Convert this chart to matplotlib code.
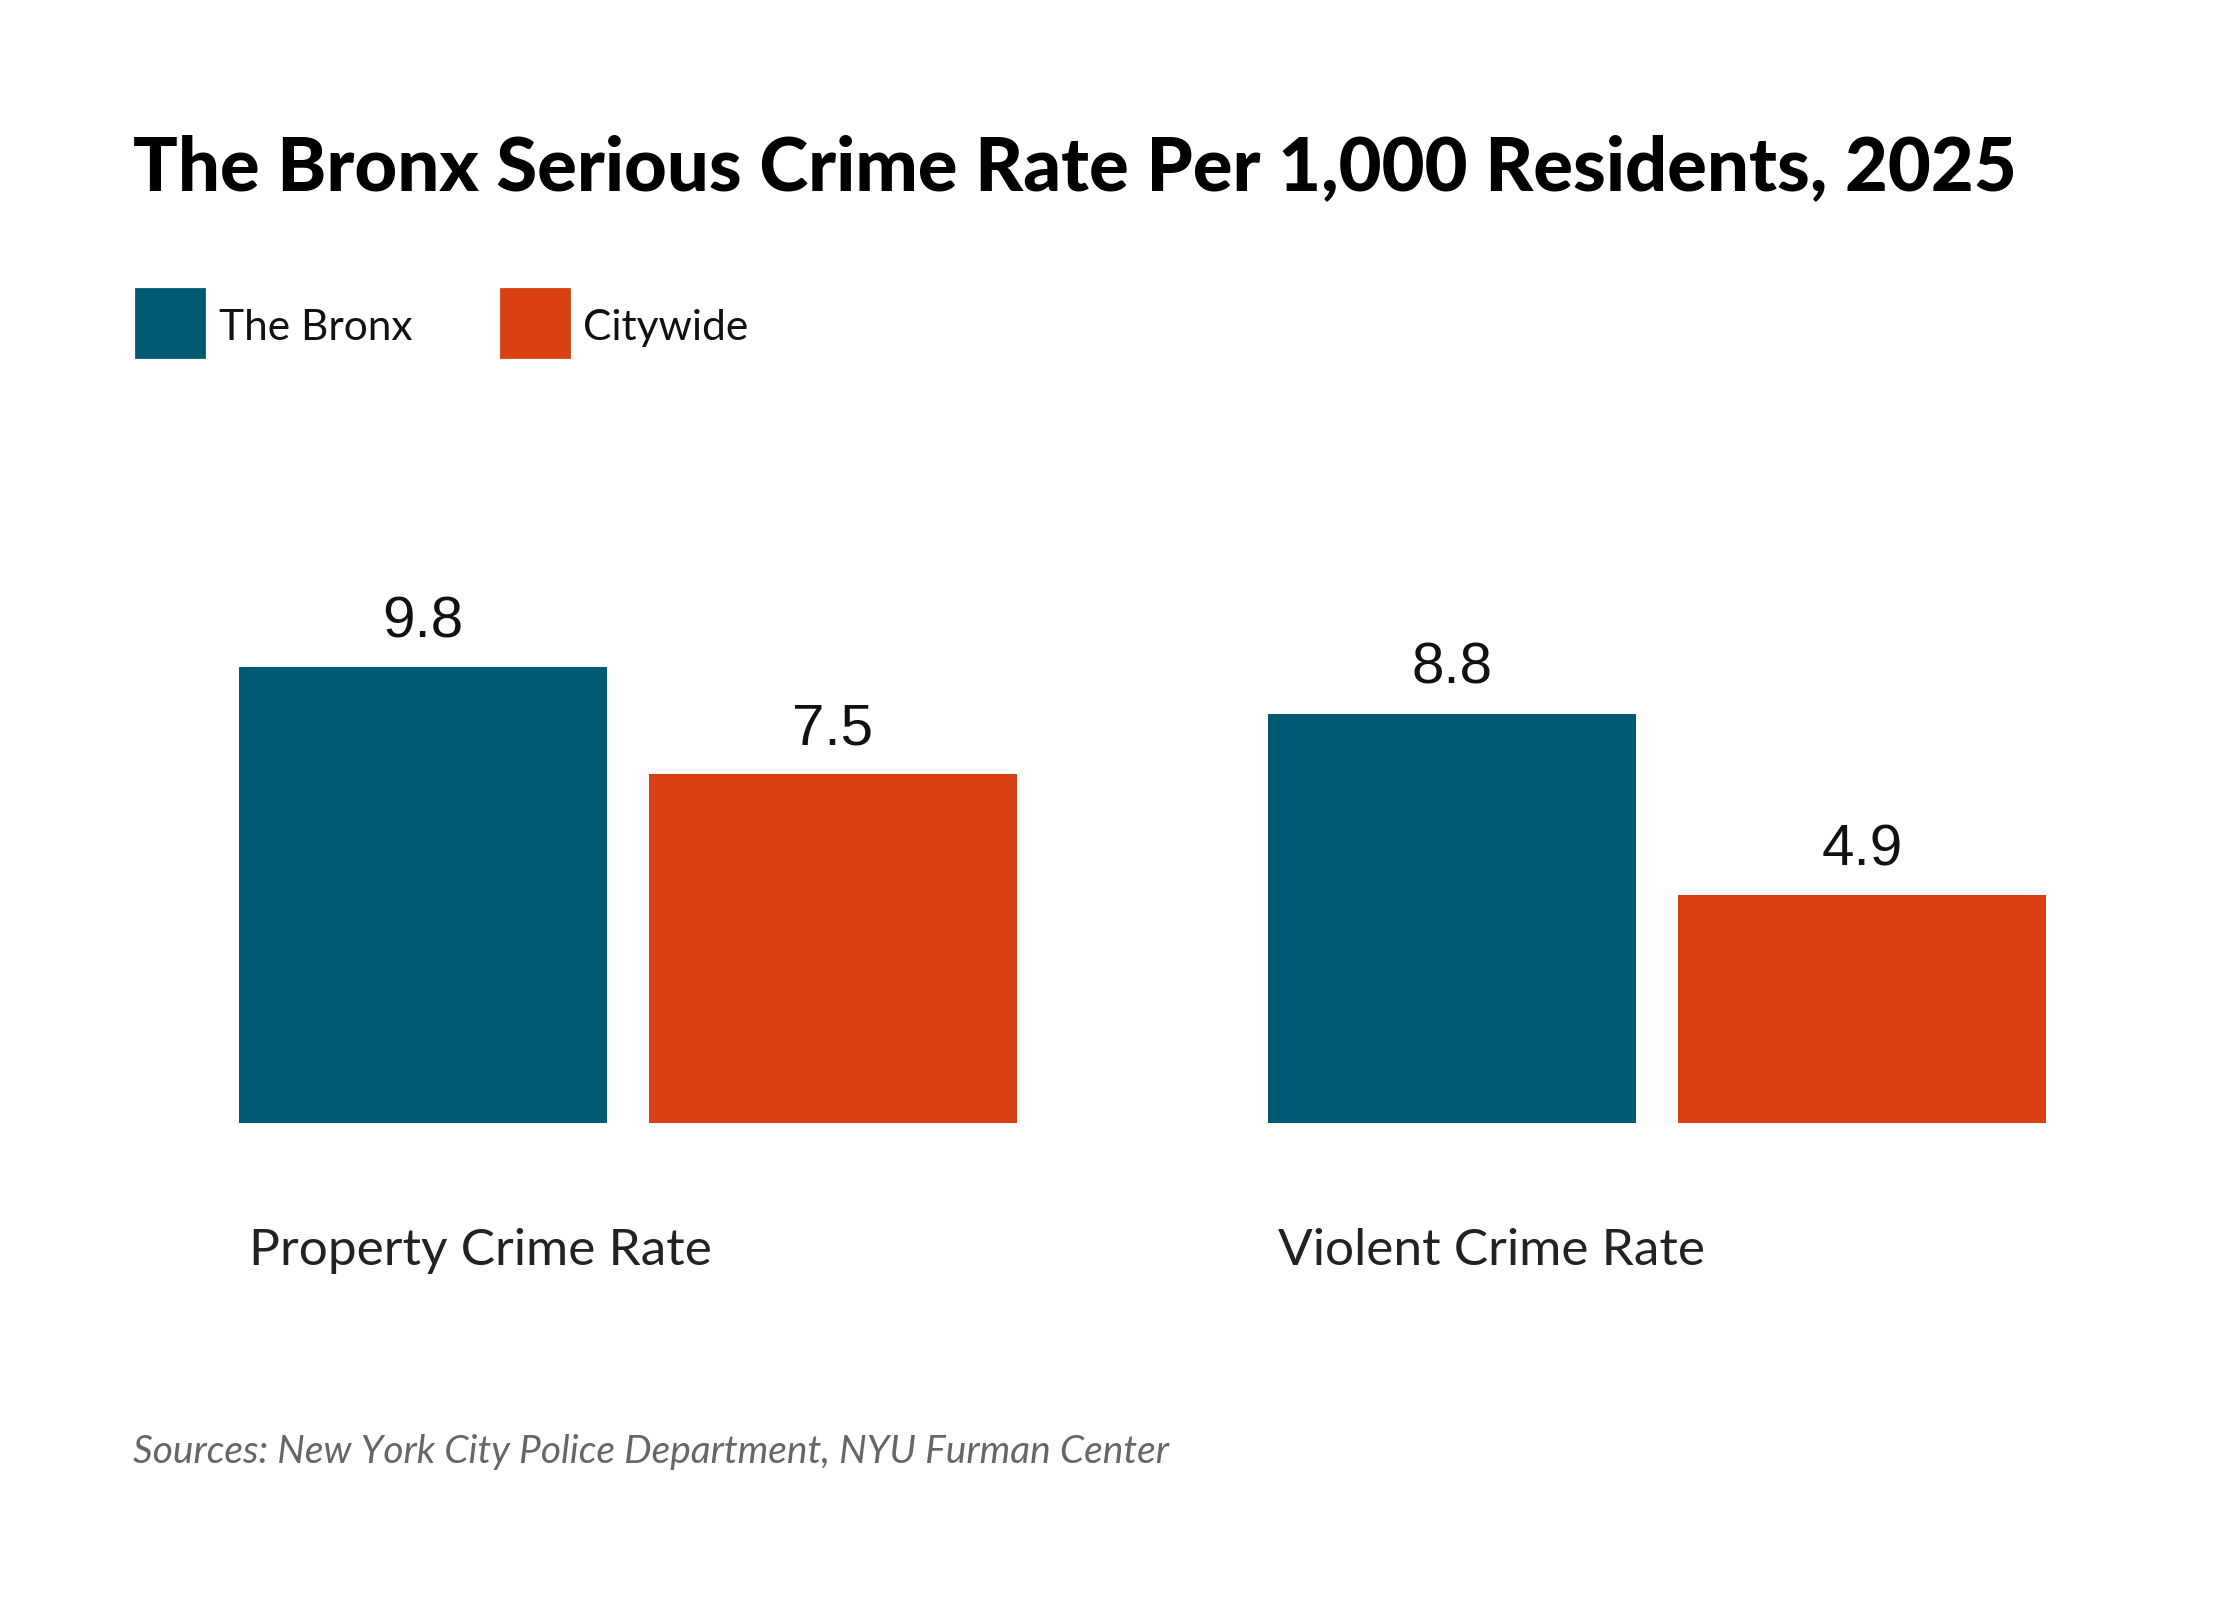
import matplotlib
matplotlib.use('Agg')
import matplotlib.pyplot as plt
from matplotlib.patches import Rectangle

# data
categories = ['Property Crime Rate', 'Violent Crime Rate']
series_names = ['The Bronx', 'Citywide']
bronx = [9.8, 8.8]
citywide = [7.5, 4.9]
colors = ['#015a74', '#d84012']

W, H = 2240, 1600
fig = plt.figure(figsize=(11.2, 8), dpi=200)
fig.patch.set_facecolor('white')

# axes placed in pixel coords (from top)
left_px, right_px = 239, 2046
base_px, top_px = 1123, 600
ax = fig.add_axes([left_px / W, 1 - base_px / H, (right_px - left_px) / W, (base_px - top_px) / H])

bw = 0.3576
off = 0.1992
xs = range(len(categories))
for i, vals in enumerate([bronx, citywide]):
    pos = [x + (off if i else -off) for x in xs]
    bars = ax.bar(pos, vals, width=bw, color=colors[i])
    for b, v in zip(bars, vals):
        ax.annotate(f'{v}', (b.get_x() + b.get_width() / 2, v), xytext=(0, 6.5),
                    textcoords='offset points', ha='center', va='bottom',
                    fontsize=21, family='Liberation Sans', color='#111111')

ax.set_xlim(-off - bw / 2, 1 + off + bw / 2)
ax.set_ylim(0, (base_px - top_px) / 46.5)
ax.axis('off')

# category labels
for x, c in zip(xs, categories):
    ax.text(x - off - bw / 2 + 0.01, -0.272, c, transform=ax.get_xaxis_transform(),
            ha='left', va='baseline', fontsize=18.5, family='Lato', color='#222222')

# title
fig.text(133 / W, 1 - 190 / H, 'The Bronx Serious Crime Rate Per 1,000 Residents, 2025',
         ha='left', va='baseline', fontsize=26.7, family='Lato', weight='black', color='#000000')

# legend
for name, col, px, tx in zip(series_names, colors, [136, 501], [219, 583]):
    fig.patches.append(Rectangle((px / W, 1 - 357 / H), 68 / W, 68 / H,
                                 transform=fig.transFigure, color=col, figure=fig))
    fig.text(tx / W, 1 - 328 / H, name, ha='left', va='center', fontsize=15.3,
             family='Lato', color='#111111')

# source
fig.text(133 / W, 1 - 1452 / H, 'Sources: New York City Police Department, NYU Furman Center',
         ha='left', va='center', fontsize=14, family='Lato', style='italic', color='#666666')

fig.savefig('out.png', dpi=200, facecolor='white')
